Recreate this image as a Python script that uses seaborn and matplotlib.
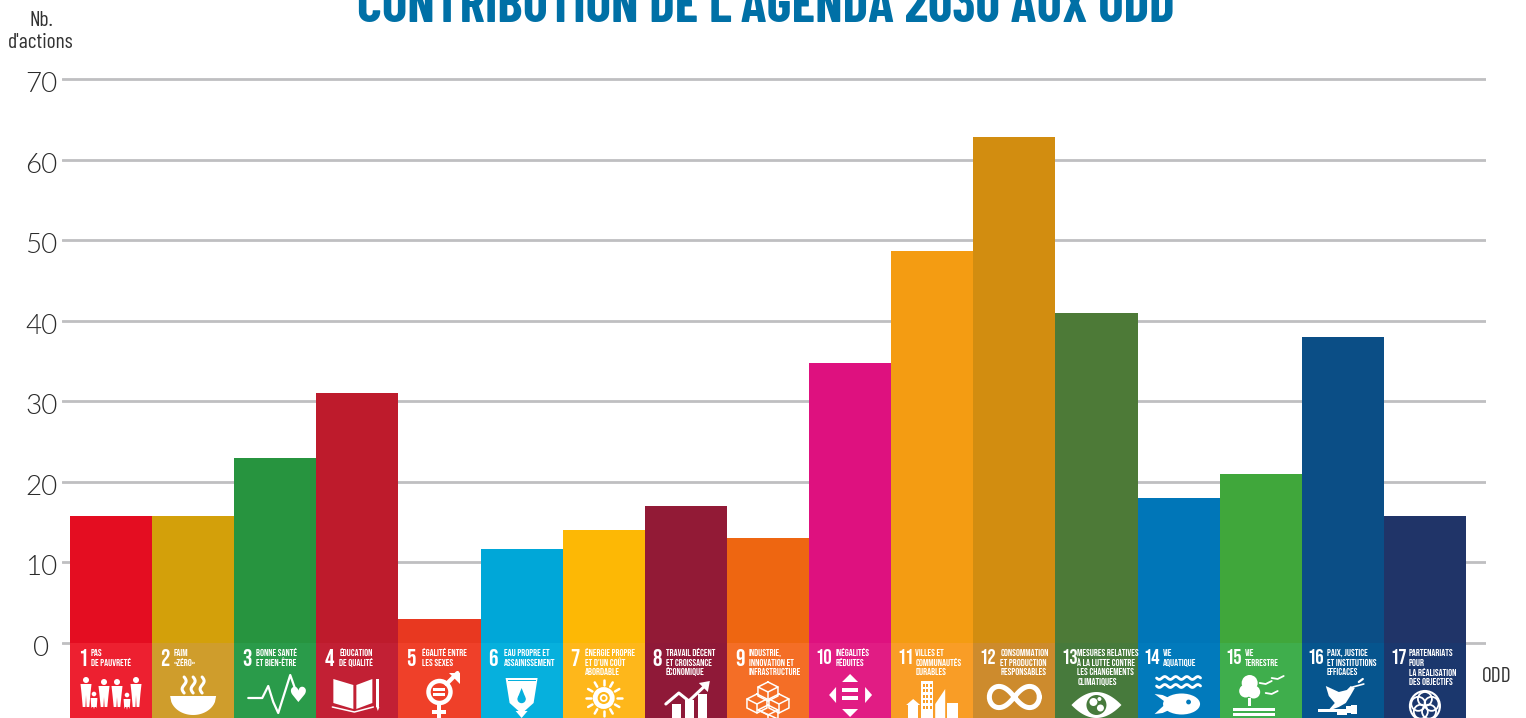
"""Contribution de l'Agenda 2030 aux ODD: bars per goal, with SDG tiles below zero"""

import numpy as np
import pandas as pd
import matplotlib
matplotlib.use("Agg")
import matplotlib.pyplot as plt
from matplotlib.patches import Ellipse, Polygon, Rectangle
from matplotlib.transforms import Affine2D
from matplotlib import font_manager as fm
import seaborn as sns

odd = [str(i) for i in range(1, 18)]
actions = [15.8, 15.8, 23, 31, 3, 11.7, 14, 17, 13, 34.8, 48.7, 62.8, 41, 18, 21, 38, 15.8]
bar_colors = ["#E40D21", "#D3A00A", "#27943F", "#BE1B2C", "#E83820", "#00A7D8",
              "#FDB805", "#921A36", "#EE6611", "#DE117F", "#F49C12", "#D28D10",
              "#4D7A37", "#0076B8", "#40A73B", "#0B4E86", "#203468"]
tile_colors = ["#ED2030", "#CF9D2C", "#2A9B4A", "#C22034", "#EF4029", "#06B0DD",
               "#FEB71B", "#8F1938", "#F46E26", "#E11C84", "#F99D26", "#CD8B2D",
               "#477A3C", "#017ABC", "#3FAE4C", "#06558E", "#1B376D"]
tile_labels = ["PAS\nDE PAUVRETÉ", "FAIM\n«ZÉRO»", "BONNE SANTÉ\nET BIEN-ÊTRE",
               "ÉDUCATION\nDE QUALITÉ", "ÉGALITÉ ENTRE\nLES SEXES",
               "EAU PROPRE ET\nASSAINISSEMENT", "ÉNERGIE PROPRE\nET D'UN COÛT\nABORDABLE",
               "TRAVAIL DÉCENT\nET CROISSANCE\nÉCONOMIQUE",
               "INDUSTRIE,\nINNOVATION ET\nINFRASTRUCTURE", "INÉGALITÉS\nRÉDUITES",
               "VILLES ET\nCOMMUNAUTÉS\nDURABLES",
               "CONSOMMATION\nET PRODUCTION\nRESPONSABLES",
               "MESURES RELATIVES\nÀ LA LUTTE CONTRE\nLES CHANGEMENTS\nCLIMATIQUES",
               "VIE\nAQUATIQUE", "VIE\nTERRESTRE",
               "PAIX, JUSTICE\nET INSTITUTIONS\nEFFICACES",
               "PARTENARIATS\nPOUR\nLA RÉALISATION\nDES OBJECTIFS"]
label_offset = [21, 22, 22, 23, 24, 23, 22, 21, 22, 27, 24, 27, 22, 25, 25, 25, 25]
yticks = [0, 10, 20, 30, 40, 50, 60, 70]
tile_depth = [-10] * 17

names = {f.name for f in fm.fontManager.ttflist}


def pick(*wanted):
    return [n for n in wanted if n in names] + ["Liberation Sans", "DejaVu Sans"]


cond = pick("Barlow Condensed", "Archivo Narrow")
tile_font = pick("Bebas Neue", "Oswald", "Barlow Condensed", "Archivo Narrow")

sns.set_style("white")
plt.rcParams["font.family"] = ["Lato", "DejaVu Sans"]

W, H = 1526, 718
fig = plt.figure(figsize=(W / 100, H / 100), dpi=100)
per_unit = 8.057
y_zero = 643
y_top = 75
ax = fig.add_axes([62 / W, 0, 1424 / W, (H - (y_zero - y_top * per_unit)) / H])

df = pd.DataFrame({"odd": odd, "actions": actions, "tile": tile_depth})
sns.barplot(data=df, x="odd", y="actions", hue="odd", palette=bar_colors, saturation=1,
            width=1, linewidth=0, legend=False, ax=ax, zorder=3)
sns.barplot(data=df, x="odd", y="tile", hue="odd", palette=tile_colors, saturation=1,
            width=1, linewidth=0, legend=False, ax=ax, zorder=3)

step = 82.12
ax.set_xlim(-0.5 - 8 / step, 16.5 + 20 / step)
ax.set_ylim(-(H - y_zero) / per_unit, y_top)
ax.set_yticks(yticks)
ax.set_yticklabels([str(v) for v in yticks], fontsize=20, color="#2b2b2b", fontweight=300,
                   ha="center", va="center_baseline")
ax.tick_params(axis="y", length=0, pad=15)
ax.tick_params(axis="x", length=0, labelbottom=False)
# the numbers sit a little under their lines
for lab in ax.get_yticklabels():
    lab.set_transform(lab.get_transform() + Affine2D().translate(0, -3))
ax.set_xlabel("")
ax.set_ylabel("")
ax.grid(axis="y", color="#bfbfc1", linewidth=2, zorder=0)
ax.grid(axis="x", visible=False)
ax.set_axisbelow(True)
sns.despine(ax=ax, left=True, bottom=True)
ax.patch.set_alpha(0)

# overlay in picture pixels for the tile text and pictograms
ov = fig.add_axes([0, 0, 1, 1], zorder=5)
ov.set_xlim(0, W)
ov.set_ylim(H, 0)
ov.axis("off")
WH = "white"


def poly(pts, fc=WH):
    ov.add_patch(Polygon(pts, closed=True, facecolor=fc, edgecolor="none"))


def line(xs, ys, lw=1.5, color=WH):
    ov.plot(xs, ys, color=color, lw=lw, solid_capstyle="round", solid_joinstyle="round")


def disc(x, y, r, fc=WH):
    ov.add_patch(Ellipse((x, y), 2 * r, 2 * r, facecolor=fc, edgecolor="none"))


def ring(x, y, r, lw=2, ec=WH):
    ov.add_patch(Ellipse((x, y), 2 * r, 2 * r, facecolor="none", edgecolor=ec, linewidth=lw))


def rect(x, y, w, h, fc=WH):
    ov.add_patch(Rectangle((x, y), w, h, facecolor=fc, edgecolor="none"))


def icon_family(c, col):
    for dx, head, tall in [(-25, 680, 1), (-17, 694, 0), (-7, 682, 1), (6, 682, 1), (16, 695, 0), (25, 680, 1)]:
        disc(c + dx, head, 3 if tall else 2.3)
        w = 5.5 if tall else 3.4
        poly([(c + dx - w, head + 4), (c + dx + w, head + 4), (c + dx + w * 0.8, head + 14),
              (c + dx + w * 0.6, 707), (c + dx + 0.6, 707), (c + dx, head + 15),
              (c + dx - 0.6, 707), (c + dx - w * 0.6, 707), (c + dx - w * 0.8, head + 14)])


def icon_bowl(c, col):
    x = np.linspace(-23, 23, 40)
    poly([(c + v, 696) for v in x] + [(c + v, 696 + 19 * np.sqrt(1 - (v / 23) ** 2)) for v in x[::-1]])
    for dx in (-9, 0, 9):
        t = np.linspace(0, 1, 20)
        line(c + dx + 2 * np.sin(t * 2 * np.pi), 677 + 16 * t, lw=2.2)


def icon_pulse(c, col):
    line([c - 27, c - 13, c - 7, c - 2, c + 3, c + 15, c + 21], [698, 698, 686, 702, 713, 675, 692], lw=1.6)
    ov.text(c + 22, 696, "♥", color=WH, fontsize=15, ha="center", va="center", family="DejaVu Sans")


def icon_book(c, col):
    poly([(c - 24, 679), (c - 4, 685), (c - 4, 709), (c - 24, 703)])
    poly([(c - 1, 685), (c + 15, 679), (c + 15, 703), (c - 1, 709)])
    line([c - 25, c - 3, c + 16], [707, 712, 707], lw=1.1)
    rect(c + 19, 679, 3, 28)
    poly([(c + 19, 707), (c + 22, 707), (c + 20.5, 711)])


def icon_gender(c, col):
    ring(c, 692, 11, lw=3.2)
    rect(c - 6, 688, 12, 2.6)
    rect(c - 6, 693, 12, 2.6)
    line([c + 7, c + 18], [684, 673], lw=3)
    poly([(c + 10, 673), (c + 21, 673), (c + 21, 684)])
    rect(c - 2, 703, 4, 15)
    rect(c - 7, 710, 14, 3.5)


def icon_cup(c, col):
    poly([(c - 16, 678), (c + 16, 678), (c + 12, 703), (c + 3, 711), (c - 3, 711), (c - 12, 703)])
    disc(c, 699, 4.2, fc=col)
    poly([(c - 3.6, 697), (c + 3.6, 697), (c, 688)], fc=col)
    poly([(c - 6, 711), (c + 6, 711), (c, 718)])
    rect(c - 14, 680, 28, 1.2, fc=col)


def icon_sun(c, col):
    ring(c, 698, 8.5, lw=3.5)
    ring(c, 698, 3, lw=1.3)
    for a in np.arange(0, 360, 30):
        r = np.radians(a)
        line([c + 13 * np.cos(r), c + 18 * np.cos(r)], [698 + 13 * np.sin(r), 698 + 18 * np.sin(r)], lw=1.8)


def icon_chart(c, col):
    for dx, top in [(-14, 704), (-1, 700), (12, 694)]:
        rect(c + dx, top, 9, 718 - top)
    line([c - 20, c - 7, c + 3, c + 20], [704, 693, 701, 685], lw=2.2)
    poly([(c + 13, 683), (c + 24, 681), (c + 22, 692)])


def icon_cubes(c, col):
    for dx, dy in [(0, 690), (-11, 702), (11, 702), (0, 713)]:
        hx = [(c + dx, dy - 8), (c + dx + 10, dy - 3), (c + dx + 10, dy + 6), (c + dx, dy + 11),
              (c + dx - 10, dy + 6), (c + dx - 10, dy - 3), (c + dx, dy - 8)]
        line([p[0] for p in hx], [p[1] for p in hx], lw=1.1)
        line([c + dx - 10, c + dx, c + dx + 10], [dy - 3, dy + 2, dy - 3], lw=1.1)
        line([c + dx, c + dx], [dy + 2, dy + 11], lw=1.1)


def icon_arrows(c, col):
    poly([(c, 674), (c + 8, 682), (c - 8, 682)])
    poly([(c, 717), (c + 8, 709), (c - 8, 709)])
    poly([(c - 21, 695), (c - 14, 687), (c - 14, 703)])
    poly([(c + 22, 695), (c + 15, 687), (c + 15, 703)])
    rect(c - 8, 688, 16, 4)
    rect(c - 8, 696, 16, 4)


def icon_city(c, col):
    rect(c - 11, 681, 12, 37)
    for ix in range(3):
        for iy in range(5):
            rect(c - 9.5 + ix * 3.6, 684 + iy * 5.4, 2, 3, fc=col)
    poly([(c + 3, 718), (c + 3, 704), (c + 13, 689), (c + 13, 718)])
    rect(c + 15, 703, 11, 15)
    rect(c - 24, 705, 10, 13)
    poly([(c - 26, 705), (c - 19, 699), (c - 12, 705)])


def icon_infinity(c, col):
    t = np.linspace(0, 2 * np.pi, 80)
    d = 1 + np.sin(t) ** 2
    line(c + 25 * np.cos(t) / d, 697 + 30 * np.sin(t) * np.cos(t) / d, lw=3.6)


def icon_eye(c, col):
    x = np.linspace(-25, 25, 40)
    top = [(c + v, 705 - 13 * (1 - (v / 25) ** 2)) for v in x]
    bot = [(c + v, 705 + 13 * (1 - (v / 25) ** 2)) for v in x[::-1]]
    poly(top + bot)
    disc(c, 705, 10, fc=col)
    disc(c - 3, 702, 4)
    disc(c + 4, 708, 3.5)
    disc(c + 3, 699, 2)


def icon_fish(c, col):
    for y in (678, 686):
        t = np.linspace(-22, 22, 40)
        line(c + t, y + 1.5 * np.sin(t * 0.57), lw=2)
    poly([(c - 24, 694), (c - 12, 703), (c - 24, 714), (c - 16, 713), (c - 5, 708), (c - 5, 700), (c - 16, 695)])
    ov.add_patch(Ellipse((c + 3, 704), 37, 21, facecolor=WH, edgecolor="none"))
    disc(c + 10, 702, 2.4, fc=col)


def icon_tree(c, col):
    disc(c - 11, 683, 8)
    disc(c - 15, 691, 6.5)
    disc(c - 7, 692, 6.5)
    rect(c - 13, 698, 3, 8)
    rect(c - 28, 708, 42, 2.6)
    rect(c - 28, 713, 42, 2.6)
    for x0, y0 in [(c + 5, 682), (c + 17, 677), (c + 11, 692)]:
        line([x0 - 6, x0, x0 + 6], [y0 + 1, y0 + 2, y0 - 1], lw=1.3)


def icon_dove(c, col):
    poly([(c - 17, 686), (c - 4, 692), (c + 4, 690), (c + 8, 686), (c + 12, 688), (c + 8, 695),
          (c + 3, 703), (c - 4, 707), (c - 15, 711), (c - 8, 703), (c - 14, 696)])
    line([c + 10, c + 21], [687, 684], lw=1.2)
    line([c + 16, c + 20], [682, 679], lw=1.6)
    rect(c - 25, 709, 28, 2.6)
    rect(c + 3, 706, 5, 7)
    rect(c + 8, 705, 6, 9)
    rect(c - 6, 711, 10, 4)


def icon_flower(c, col):
    for a in np.arange(-90, 270, 72):
        r = np.radians(a)
        ring(c + 7 * np.cos(r), 706 + 7 * np.sin(r), 7, lw=1.3)
    ring(c, 706, 15, lw=1.5)


icons = [icon_family, icon_bowl, icon_pulse, icon_book, icon_gender, icon_cup, icon_sun,
         icon_chart, icon_cubes, icon_arrows, icon_city, icon_infinity, icon_eye,
         icon_fish, icon_tree, icon_dove, icon_flower]

for i in range(17):
    left = 70 + step * i
    ov.text(left + (6 if i >= 9 else 8), 657, odd[i], color=WH, family=tile_font,
            fontweight="bold", fontsize=15 if i >= 9 else 17, ha="left", va="center")
    for k, row in enumerate(tile_labels[i].split("\n")):
        ov.text(left + label_offset[i], 652.5 + k * 9.6, row, color=WH, family=tile_font,
                fontsize=7.2, ha="left", va="center")
    icons[i](left + 41, tile_colors[i])

ov.text(766, 22, "CONTRIBUTION DE L'AGENDA 2030 AUX ODD", color="#0070A6", family=cond,
        fontweight="bold", fontsize=38.5, ha="center", va="baseline")
ov.text(41, 21, "Nb.", color="#333333", family=cond, fontsize=15.5, ha="center", va="center")
ov.text(41, 43, "d'actions", color="#333333", family=cond, fontsize=15.5, ha="center", va="center")
ov.text(1497, 676, "ODD", color="#333333", family=cond, fontsize=15.5, ha="center", va="center")

fig.savefig("out.png", dpi=100)
